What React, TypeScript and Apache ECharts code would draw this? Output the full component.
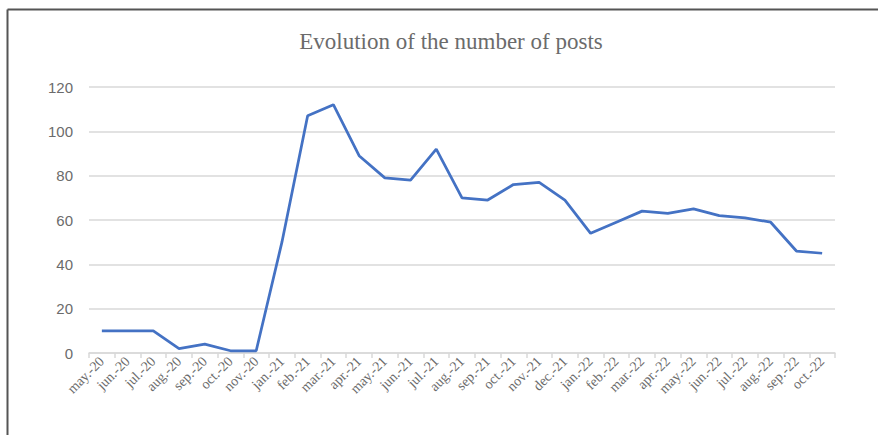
import React, { useEffect, useRef } from "react";
import * as echarts from "echarts";

const categories = [
  "may.-20", "jun.-20", "jul.-20", "aug.-20", "sep.-20", "oct.-20", "nov.-20",
  "jan.-21", "feb.-21", "mar.-21", "apr.-21", "may.-21", "jun.-21", "jul.-21",
  "aug.-21", "sep.-21", "oct.-21", "nov.-21", "dec.-21", "jan.-22", "feb.-22",
  "mar.-22", "apr.-22", "may.-22", "jun.-22", "jul.-22", "aug.-22", "sep.-22", "oct.-22",
];
const posts = [
  10, 10, 10, 2, 4, 1, 1,
  50, 107, 112, 89, 79, 78, 92,
  70, 69, 76, 77, 69, 54, 59,
  64, 63, 65, 62, 61, 59, 46, 45,
];
const titleText = "Evolution of the number of posts";

export default function App() {
  const ref = useRef<HTMLDivElement>(null);
  useEffect(() => {
    if (!ref.current) return;
    const chart = echarts.init(ref.current, null, { renderer: "svg" });
    chart.setOption({
      animation: false,
      backgroundColor: "#ffffff",
      title: {
        text: titleText,
        left: 446,
        textAlign: "center",
        top: 25,
        textStyle: {
          fontFamily: "Liberation Serif",
          fontSize: 23,
          fontWeight: "normal",
          color: "#6b6b6b",
        },
      },
      graphic: [
        { type: "line", shape: { x1: 7.5, y1: 9.5, x2: 878, y2: 9.5 }, style: { stroke: "#555555", lineWidth: 2 } },
        { type: "line", shape: { x1: 7.5, y1: 9.5, x2: 7.5, y2: 435 }, style: { stroke: "#555555", lineWidth: 2 } },
      ],
      grid: { left: 89, right: 43, top: 87, bottom: 82, containLabel: false },
      xAxis: {
        type: "category",
        data: categories,
        boundaryGap: true,
        axisLine: { lineStyle: { color: "#d9d9d9", width: 1.5 } },
        axisTick: { show: true, length: 5, lineStyle: { color: "#d9d9d9", width: 1.5 }, alignWithLabel: false },
        axisLabel: {
          interval: 0,
          rotate: 45,
          fontFamily: "Liberation Serif",
          fontSize: 14,
          color: "#6b6b6b",
          margin: 6,
        },
      },
      yAxis: {
        type: "value",
        min: 0,
        max: 120,
        interval: 20,
        axisLine: { show: false },
        axisTick: { show: false },
        splitLine: { lineStyle: { color: "#d9d9d9", width: 1.5 } },
        axisLabel: {
          fontFamily: "Liberation Sans",
          fontSize: 15,
          color: "#6b6b6b",
          margin: 16,
        },
      },
      series: [
        {
          type: "line",
          data: posts,
          symbol: "none",
          lineStyle: { color: "#4472c4", width: 2.75 },
        },
      ],
    });
    return () => chart.dispose();
  }, []);
  return (
    <div
      ref={ref}
      style={{ position: "fixed", left: 0, top: 0, width: 878, height: 435 }}
    />
  );
}
